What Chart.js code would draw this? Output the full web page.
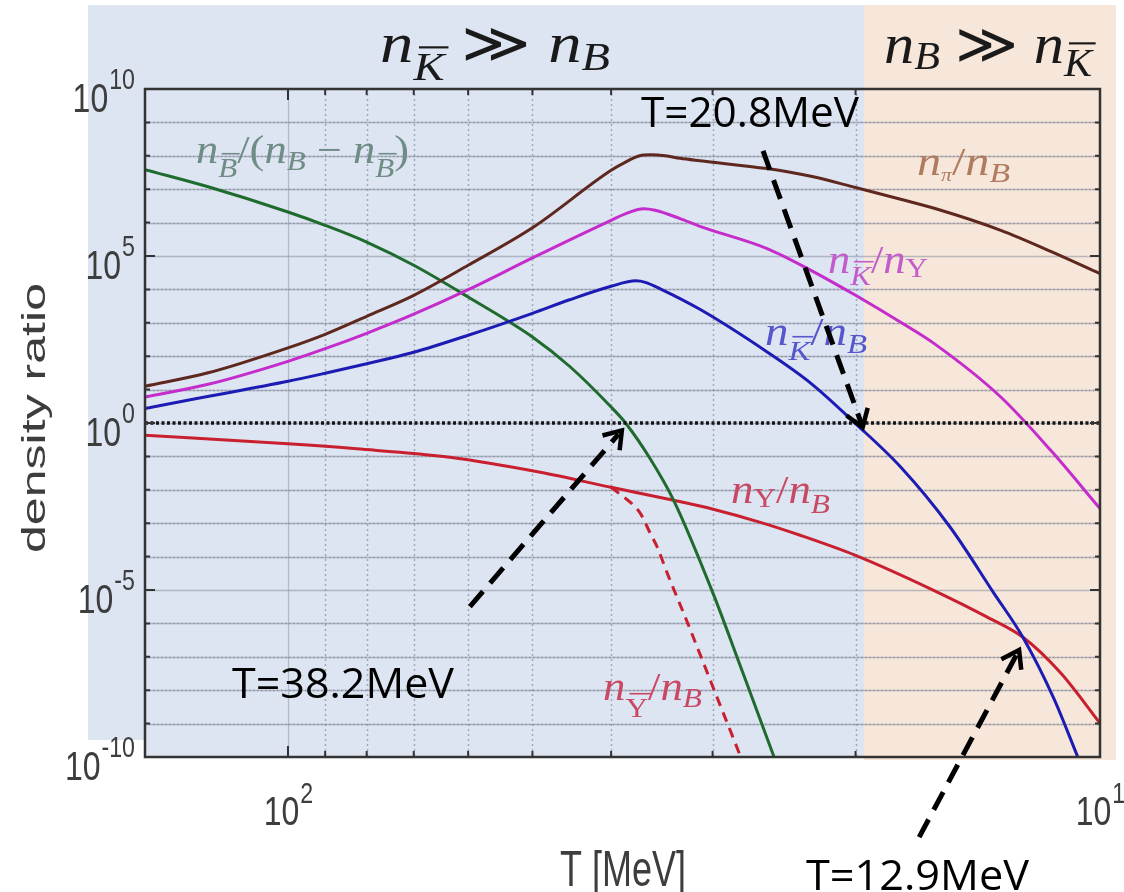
<!DOCTYPE html>
<html>
<head>
<meta charset="utf-8">
<script src="https://cdn.jsdelivr.net/npm/chart.js@4.4.1/dist/chart.umd.min.js"></script>
<style>
  html, body { margin: 0; padding: 0; background: #fff; }
  #wrap { width: 1124px; height: 892px; }
</style>
</head>
<body>
<div id="wrap"><canvas id="chart" width="1124" height="892"></canvas></div>
<script>
// Temperatures in MeV (x) and density ratios (y).
const piT = [150, 125.4, 100, 90, 80, 70, 60, 50, 40, 38.45, 36.9, 35.8, 34.3, 32.9, 31.1, 25.7, 22.7, 20, 17.6, 16, 13.25, 11.5, 10];
const piOverB = [12.6, 31.8, 178, 453, 1567, 6650, 5.27e4, 6.98e5, 3.68e7, 6.38e7, 1.0e8, 1.07e8, 1.0e8, 8.41e7, 7.08e7, 4.14e7, 2.43e7, 1.12e7, 4.99e6, 2.68e6, 5.87e5, 1.38e5, 2.97e4];

const kyT = [150, 125.4, 100, 90, 80, 70, 60, 50, 40, 38.1, 36.5, 35.3, 32.9, 31.1, 25.7, 22.7, 20, 17.6, 16, 13.25, 11.5, 10];
const kbarOverY = [6.0, 14.4, 70.3, 168, 485, 1808, 9795, 8.77e4, 1.17e6, 1.98e6, 2.59e6, 2.33e6, 1.32e6, 7.75e5, 1.67e5, 3.73e4, 6650, 1035, 238, 6.0, 0.152, 2.74e-3];

const kbT = [150, 130, 100, 90, 80, 70, 60, 50, 45, 40, 37.3, 36.3, 34.8, 31.1, 25.7, 22.7, 20, 17.6, 15.3, 13.5, 12.45, 11.4, 10.65, 10.3];
const kbarOverB = [2.70, 5.30, 17.7, 30.8, 59.2, 131, 423, 1925, 4885, 1.24e4, 1.81e4, 1.63e4, 1.04e4, 2535, 134, 15.4, 0.96, 0.0482, 7.7e-4, 7.8e-6, 3.92e-7, 5.7e-9, 1e-10, 1.4e-11];

const bbT = [150, 125.4, 100, 90, 80, 70, 60, 50, 44.9, 40, 38.4, 35.9, 33.5, 29.95, 27.7, 25.2, 24];
const bbarRatio = [3.86e7, 1.18e7, 2.08e6, 8.3e5, 2.62e5, 5.27e4, 5920, 376, 47.5, 3.01, 1.0, 0.094, 4.85e-3, 7.8e-6, 4.95e-8, 1e-10, 3.7e-12];

const ybT = [150, 100, 82.3, 63.2, 48.9, 40, 33.5, 29.95, 26.2, 23.4, 20, 16.03, 13.75, 12.44, 11.17, 10];
const yOverB = [0.428, 0.238, 0.169, 0.094, 0.0334, 0.0119, 4.85e-3, 2.61e-3, 1.06e-3, 4.35e-4, 1.09e-4, 9.8e-6, 1.52e-6, 3.84e-7, 3.2e-8, 1.02e-9];

const ybarT = [40, 38.6, 37.7, 36.8, 35.8, 35.1, 34.1, 32.3, 29.97, 27.7, 27];
const ybarOverB = [0.0119, 6.1e-3, 3.81e-3, 1.94e-3, 4.99e-4, 1.94e-4, 3.1e-5, 1.24e-6, 1.25e-8, 1e-10, 2e-11];

const unityT = [150, 10];
const unityV = [1, 1];

// axis ticks
const yTickValues = [1e10, 1e5, 1, 1e-5, 1e-10];
const yTickExps = ['10', '5', '0', '-5', '-10'];
const xTickValues = [100, 10];
const xTickExps = ['2', '1'];
const xGridValues = [90, 80, 70, 60, 50, 40, 30, 20];

// arrows: [T from, ratio from, T to, ratio to]
const arrows = [
  [26.0, 1.4e8, 19.6, 0.75],
  [59.7, 3.2e-6, 38.8, 0.6],
  [16.7, 4e-13, 12.58, 1.6e-7]
];

const toXY = (xs, ys) => xs.map((x, i) => ({ x: x, y: ys[i] }));

const SERIF = "'Liberation Serif', 'DejaVu Serif', serif";
const SANS = "'Liberation Sans', Arial, sans-serif";

function mathFont(kind, size) {
  let s = size;
  if (kind[0] === 's') s = size * 0.7;
  if (kind[0] === 't') s = size * 0.45;
  return (kind.endsWith('i') ? 'italic ' : '') + Math.round(s) + 'px ' + SERIF;
}

// parts: [text, kind, dy, overline]
function drawMath(ctx, parts, x, base, width, size, color) {
  ctx.save();
  const widths = parts.map(p => { ctx.font = mathFont(p[1], size); return ctx.measureText(p[0]).width; });
  const natural = widths.reduce((s, w) => s + w, 0);
  ctx.translate(x, base);
  ctx.scale(width / natural, 1);
  ctx.fillStyle = color;
  ctx.textAlign = 'left';
  ctx.textBaseline = 'alphabetic';
  let cx = 0;
  parts.forEach((p, i) => {
    const fs = p[1][0] === 's' ? size * 0.7 : (p[1][0] === 't' ? size * 0.45 : size);
    const dy = p[2] || 0;
    ctx.font = mathFont(p[1], size);
    ctx.fillText(p[0], cx, dy);
    if (p[3]) {
      ctx.fillRect(cx + widths[i] * 0.18, dy - fs * 0.86, widths[i] * 0.95, Math.max(1.6, fs * 0.055));
    }
    cx += widths[i];
  });
  ctx.restore();
}

function drawFit(ctx, text, x, base, width, font, color) {
  ctx.save();
  ctx.font = font;
  const w = ctx.measureText(text).width;
  ctx.translate(x, base);
  ctx.scale(width / w, 1);
  ctx.fillStyle = color;
  ctx.textAlign = 'left';
  ctx.textBaseline = 'alphabetic';
  ctx.fillText(text, 0, 0);
  ctx.restore();
}

function drawPow(ctx, exp, x, baseY, expY, align) {
  const sx = 0.8;
  ctx.save();
  ctx.fillStyle = '#3d3d3d';
  ctx.textAlign = 'left';
  ctx.textBaseline = 'alphabetic';
  ctx.font = '40px ' + SANS;
  const wb = ctx.measureText('10').width * sx;
  ctx.font = '29px ' + SANS;
  const we = ctx.measureText(exp).width * sx;
  const left = align === 'right' ? x - wb - we : x - (wb + we) / 2;
  ctx.save();
  ctx.translate(left, baseY); ctx.scale(sx, 1);
  ctx.font = '40px ' + SANS;
  ctx.fillText('10', 0, 0);
  ctx.restore();
  ctx.save();
  ctx.translate(left + wb + 1, expY); ctx.scale(sx, 1);
  ctx.font = '29px ' + SANS;
  ctx.fillText(exp, 0, 0);
  ctx.restore();
  ctx.restore();
}

function drawArrow(ctx, x0, y0, x1, y1) {
  const ang = Math.atan2(y1 - y0, x1 - x0);
  ctx.save();
  ctx.strokeStyle = '#000';
  ctx.lineWidth = 5;
  ctx.setLineDash([20, 11]);
  ctx.beginPath();
  ctx.moveTo(x0, y0);
  ctx.lineTo(x1 - 5 * Math.cos(ang), y1 - 5 * Math.sin(ang));
  ctx.stroke();
  ctx.setLineDash([]);
  ctx.lineWidth = 4.5;
  const L = 20, spread = 0.6;
  ctx.beginPath();
  ctx.moveTo(x1 - L * Math.cos(ang - spread), y1 - L * Math.sin(ang - spread));
  ctx.lineTo(x1, y1);
  ctx.lineTo(x1 - L * Math.cos(ang + spread), y1 - L * Math.sin(ang + spread));
  ctx.stroke();
  ctx.restore();
}

const SPLIT_X = 864;

const backdrop = {
  id: 'backdrop',
  beforeDraw(chart) {
    const ctx = chart.ctx, a = chart.chartArea;
    const xs = chart.scales.x, ys = chart.scales.y;
    ctx.save();
    ctx.fillStyle = '#fff';
    ctx.fillRect(0, 0, chart.width, chart.height);
    ctx.fillStyle = '#dde4f2';
    ctx.fillRect(88, 5, SPLIT_X - 88, 735);
    ctx.fillRect(a.left, 740, SPLIT_X - a.left, a.bottom - 740);
    ctx.fillStyle = '#f7e6da';
    ctx.fillRect(SPLIT_X, 5, 1116 - SPLIT_X, 755);

    // horizontal grid, one line per decade
    for (let e = -9; e <= 9; e++) {
      const y = Math.round(ys.getPixelForValue(Math.pow(10, e))) + 0.5;
      ctx.strokeStyle = 'rgba(135,143,160,0.55)';
      ctx.lineWidth = 1.5;
      ctx.setLineDash([]);
      ctx.beginPath(); ctx.moveTo(a.left, y); ctx.lineTo(a.right, y); ctx.stroke();
      if (e % 5 !== 0) {
        ctx.strokeStyle = 'rgba(95,100,115,0.45)';
        ctx.setLineDash([1.5, 2.5]);
        ctx.beginPath(); ctx.moveTo(a.left, y); ctx.lineTo(a.right, y); ctx.stroke();
      }
    }
    // vertical grid
    const x100 = Math.round(xs.getPixelForValue(100)) + 0.5;
    ctx.setLineDash([]);
    ctx.strokeStyle = 'rgba(135,143,160,0.5)';
    ctx.lineWidth = 1.2;
    ctx.beginPath(); ctx.moveTo(x100, a.top); ctx.lineTo(x100, a.bottom); ctx.stroke();
    ctx.strokeStyle = 'rgba(120,128,145,0.6)';
    ctx.lineWidth = 1.5;
    ctx.setLineDash([2, 3]);
    xGridValues.forEach(t => {
      const x = Math.round(xs.getPixelForValue(t)) + 0.5;
      ctx.beginPath(); ctx.moveTo(x, a.top); ctx.lineTo(x, a.bottom); ctx.stroke();
    });
    ctx.restore();
  }
};

const frame = {
  id: 'frame',
  afterDatasetsDraw(chart) {
    const ctx = chart.ctx, a = chart.chartArea;
    const xs = chart.scales.x, ys = chart.scales.y;
    ctx.save();
    ctx.strokeStyle = '#333';
    ctx.setLineDash([]);
    ctx.lineWidth = 2.5;
    ctx.strokeRect(a.left, a.top, a.right - a.left, a.bottom - a.top);
    ctx.lineWidth = 2;
    for (let e = -9; e <= 9; e++) {
      const y = ys.getPixelForValue(Math.pow(10, e));
      const len = e % 5 === 0 ? 10 : 5;
      ctx.beginPath();
      ctx.moveTo(a.left, y); ctx.lineTo(a.left + len, y);
      ctx.moveTo(a.right, y); ctx.lineTo(a.right - len, y);
      ctx.stroke();
    }
    [100].concat(xGridValues).forEach(t => {
      const x = xs.getPixelForValue(t);
      const len = t === 100 ? 11 : 6;
      ctx.beginPath();
      ctx.moveTo(x, a.bottom); ctx.lineTo(x, a.bottom - len);
      ctx.moveTo(x, a.top); ctx.lineTo(x, a.top + len);
      ctx.stroke();
    });
    ctx.restore();
  }
};

const labels = {
  id: 'labels',
  afterDraw(chart) {
    const ctx = chart.ctx;
    const xs = chart.scales.x, ys = chart.scales.y;

    yTickValues.forEach((v, i) => {
      const y = ys.getPixelForValue(v);
      drawPow(ctx, yTickExps[i], 134, y + 23, y, 'right');
    });
    xTickValues.forEach((v, i) => {
      drawPow(ctx, xTickExps[i], xs.getPixelForValue(v), 825, 803, 'center');
    });

    // axis titles
    ctx.save();
    ctx.translate(45, 418);
    ctx.rotate(-Math.PI / 2);
    ctx.font = '34px ' + SANS;
    const w = ctx.measureText('density ratio').width;
    ctx.scale(270 / w, 1);
    ctx.fillStyle = '#3d3d3d';
    ctx.textAlign = 'center';
    ctx.fillText('density ratio', 0, 0);
    ctx.restore();
    drawFit(ctx, 'T [MeV]', 560, 886, 126, '50px ' + SANS, '#3d3d3d');

    // region headers
    drawMath(ctx, [['n', 'i'], ['K', 'si', 18, true], [' \u226B ', 'r'], ['n', 'i'], ['B', 'si', 8]],
      380, 62, 230, 56, '#1a1a1a');
    drawMath(ctx, [['n', 'i'], ['B', 'si', 6], [' \u226B ', 'r'], ['n', 'i'], ['K', 'si', 13, true]],
      884, 63, 208, 56, '#1a1a1a');

    // curve labels
    drawMath(ctx, [['n', 'i'], ['B', 'si', 14, true], ['/(', 'r'], ['n', 'i'], ['B', 'si', 7],
      [' \u2212 ', 'r'], ['n', 'i'], ['B', 'si', 14, true], [')', 'r']], 196, 163, 213, 40, '#6f8d84');
    drawMath(ctx, [['n', 'i'], ['\u03C0', 'ti', 6], ['/', 'r'], ['n', 'i'], ['B', 'si', 7]],
      917, 175, 93, 40, '#b07b5f');
    drawMath(ctx, [['n', 'i'], ['K', 'si', 12, true], ['/', 'r'], ['n', 'i'], ['Y', 'sr', 4]],
      828, 273, 100, 40, '#c35ccb');
    drawMath(ctx, [['n', 'i'], ['K', 'si', 15, true], ['/', 'r'], ['n', 'i'], ['B', 'si', 8]],
      765, 345, 102, 40, '#5757cc');
    drawMath(ctx, [['n', 'i'], ['Y', 'sr', 4], ['/', 'r'], ['n', 'i'], ['B', 'si', 10]],
      731, 503, 99, 40, '#c94863');
    drawMath(ctx, [['n', 'i'], ['Y', 'sr', 17, true], ['/', 'r'], ['n', 'i'], ['B', 'si', 7]],
      603, 700, 99, 40, '#c94863');

    // annotations
    arrows.forEach(a => {
      drawArrow(ctx, xs.getPixelForValue(a[0]), ys.getPixelForValue(a[1]),
        xs.getPixelForValue(a[2]), ys.getPixelForValue(a[3]));
    });
    const annFont = "42px 'Open Sans', 'Liberation Sans', sans-serif";
    drawFit(ctx, 'T=20.8MeV', 641, 127, 218, annFont, '#000');
    drawFit(ctx, 'T=38.2MeV', 232, 698, 222, annFont, '#000');
    drawFit(ctx, 'T=12.9MeV', 806, 890, 223, annFont, '#000');
  }
};

new Chart(document.getElementById('chart'), {
  type: 'line',
  data: {
    datasets: [
      { label: 'unity', data: toXY(unityT, unityV), borderColor: '#151515', borderWidth: 3.5, borderDash: [3, 2.5], cubicInterpolationMode: 'default', tension: 0 },
      { label: 'n_pi/n_B', data: toXY(piT, piOverB), borderColor: '#5f281e' },
      { label: 'n_Kbar/n_Y', data: toXY(kyT, kbarOverY), borderColor: '#c42ccc' },
      { label: 'n_Kbar/n_B', data: toXY(kbT, kbarOverB), borderColor: '#1c1cb4' },
      { label: 'n_Bbar/(n_B-n_Bbar)', data: toXY(bbT, bbarRatio), borderColor: '#1f6b2d' },
      { label: 'n_Y/n_B', data: toXY(ybT, yOverB), borderColor: '#c8202f' },
      { label: 'n_Ybar/n_B', data: toXY(ybarT, ybarOverB), borderColor: '#c8202f', borderDash: [10, 7] }
    ]
  },
  options: {
    responsive: false,
    animation: false,
    devicePixelRatio: 1,
    layout: { padding: { top: 89, right: 24, left: 0, bottom: 0 } },
    plugins: { legend: { display: false }, tooltip: { enabled: false } },
    elements: {
      point: { radius: 0 },
      line: { borderWidth: 3, cubicInterpolationMode: 'monotone', fill: false }
    },
    scales: {
      x: {
        type: 'logarithmic', reverse: true, min: 10, max: 150,
        ticks: { display: false }, grid: { display: false }, border: { display: false },
        afterFit: s => { s.height = 135; }
      },
      y: {
        type: 'logarithmic', min: 1e-10, max: 1e10,
        ticks: { display: false }, grid: { display: false }, border: { display: false },
        afterFit: s => { s.width = 145; }
      }
    }
  },
  plugins: [backdrop, frame, labels]
});
</script>
</body>
</html>
